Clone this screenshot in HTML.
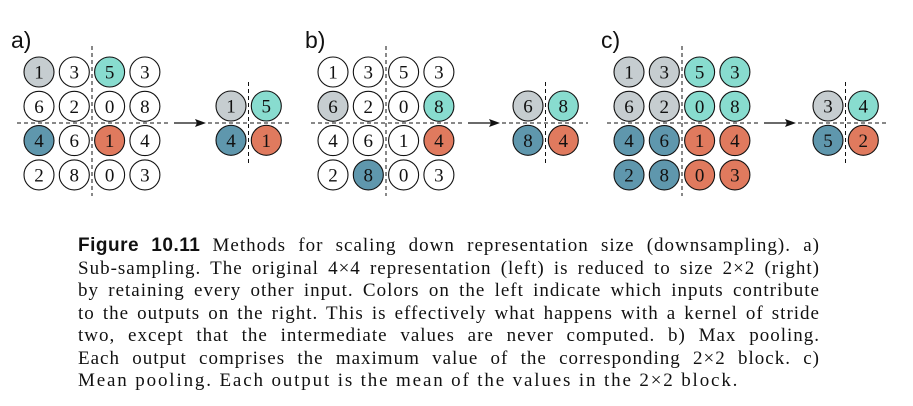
<!DOCTYPE html>
<html><head><meta charset="utf-8"><style>
html,body{margin:0;padding:0;background:#fff;width:913px;height:406px;overflow:hidden}
svg{position:absolute;left:0;top:0}
.cap{position:absolute;left:78px;width:742px;font-family:"Liberation Serif",serif;font-size:19px;letter-spacing:1.0px;color:#111}
.ln{position:absolute;left:0;width:742px;height:22px;line-height:22px;text-align:justify;text-align-last:justify;white-space:nowrap}
.last{text-align-last:left;letter-spacing:1.85px}
b{font-family:"Liberation Sans",sans-serif;font-weight:bold;letter-spacing:0.5px}
</style></head><body>
<svg id="fig" width="913" height="220"></svg>
<div class="cap">
<div class="ln" style="top:235px"><b>Figure 10.11</b> Methods for scaling down representation size (downsampling). a)</div>
<div class="ln" style="top:257.5px">Sub-sampling. The original 4×4 representation (left) is reduced to size 2×2 (right)</div>
<div class="ln" style="top:280px">by retaining every other input. Colors on the left indicate which inputs contribute</div>
<div class="ln" style="top:302.5px">to the outputs on the right. This is effectively what happens with a kernel of stride</div>
<div class="ln" style="top:325px">two, except that the intermediate values are never computed. b) Max pooling.</div>
<div class="ln" style="top:347.5px">Each output comprises the maximum value of the corresponding 2×2 block. c)</div>
<div class="ln last" style="top:370px">Mean pooling. Each output is the mean of the values in the 2×2 block.</div>
</div>
<script>
const inputGrid=[[1,3,5,3],[6,2,0,8],[4,6,1,4],[2,8,0,3]];
const panelLabels=["a)","b)","c)"];
// color codes: 0 white, 1 grey, 2 teal, 3 blue, 4 red
const colorsA=[[1,0,2,0],[0,0,0,0],[3,0,4,0],[0,0,0,0]];
const colorsB=[[0,0,0,0],[1,0,0,2],[0,0,0,4],[0,3,0,0]];
const colorsC=[[1,1,2,2],[1,1,2,2],[3,3,4,4],[3,3,4,4]];
const outA=[[1,5],[4,1]], outB=[[6,8],[8,4]], outC=[[3,4],[5,2]];
const palette=["#ffffff","#c6cdd0","#88dccf","#5f97ad","#e07a5e"];
const ns="http://www.w3.org/2000/svg";
const svg=document.getElementById('fig');
function mk(t,a){const e=document.createElementNS(ns,t);for(const k in a)e.setAttribute(k,a[k]);return e;}
function circ(g,cx,cy,v,c,nm){
  const gg=mk('g',{});
  
  
  gg.appendChild(mk('circle',{cx:cx,cy:cy,r:15,fill:palette[c],stroke:'#111','stroke-width':1.1}));
  const t=mk('text',{x:cx,y:cy+6.5,'text-anchor':'middle','font-family':'Liberation Serif, serif','font-size':19,fill:'#111'});
  t.textContent=v;gg.appendChild(t);g.appendChild(gg);
}
const panels=[[0,colorsA,outA,231],[294,colorsB,outB,528],[590,colorsC,outC,828]];
panels.forEach((p,pi)=>{
  const [ox,cols,out,outx]=p;
  const g=mk('g',{});
  
  
  svg.appendChild(g);
  const lab=mk('text',{x:ox+11,y:48,'font-family':'Liberation Sans, sans-serif','font-size':23,fill:'#111'});
  lab.textContent=panelLabels[pi];
  
  
  g.appendChild(lab);
  const d={stroke:'#111','stroke-width':1,'stroke-dasharray':'4,3'};
  g.appendChild(mk('line',Object.assign({x1:ox+92,y1:46,x2:ox+92,y2:196},d)));
  g.appendChild(mk('line',Object.assign({x1:ox+17,y1:123,x2:ox+168,y2:123},d)));
  for(let r=0;r<4;r++)for(let c=0;c<4;c++)
    circ(g,ox+39+c*35.3,72+r*34.3,inputGrid[r][c],cols[r][c],'input-cell');
  const ar=mk('line',{x1:ox+174,y1:123,x2:ox+198,y2:123,stroke:'#111','stroke-width':1.2});
  
  g.appendChild(ar);
  g.appendChild(mk('path',{d:`M${ox+206} 123 L${ox+195} 119 L${ox+197} 123 L${ox+195} 127 Z`,fill:'#111'}));
  const mid=outx+17.5;
  g.appendChild(mk('line',Object.assign({x1:mid,y1:82,x2:mid,y2:164},d)));
  g.appendChild(mk('line',Object.assign({x1:ox+208,y1:123,x2:outx+60,y2:123},d)));
  const oc=[[1,2],[3,4]];
  for(let r=0;r<2;r++)for(let c=0;c<2;c++)
    circ(g,outx+c*35.3,106+r*34.3,out[r][c],oc[r][c],'output-cell');
});
</script>
</body></html>
